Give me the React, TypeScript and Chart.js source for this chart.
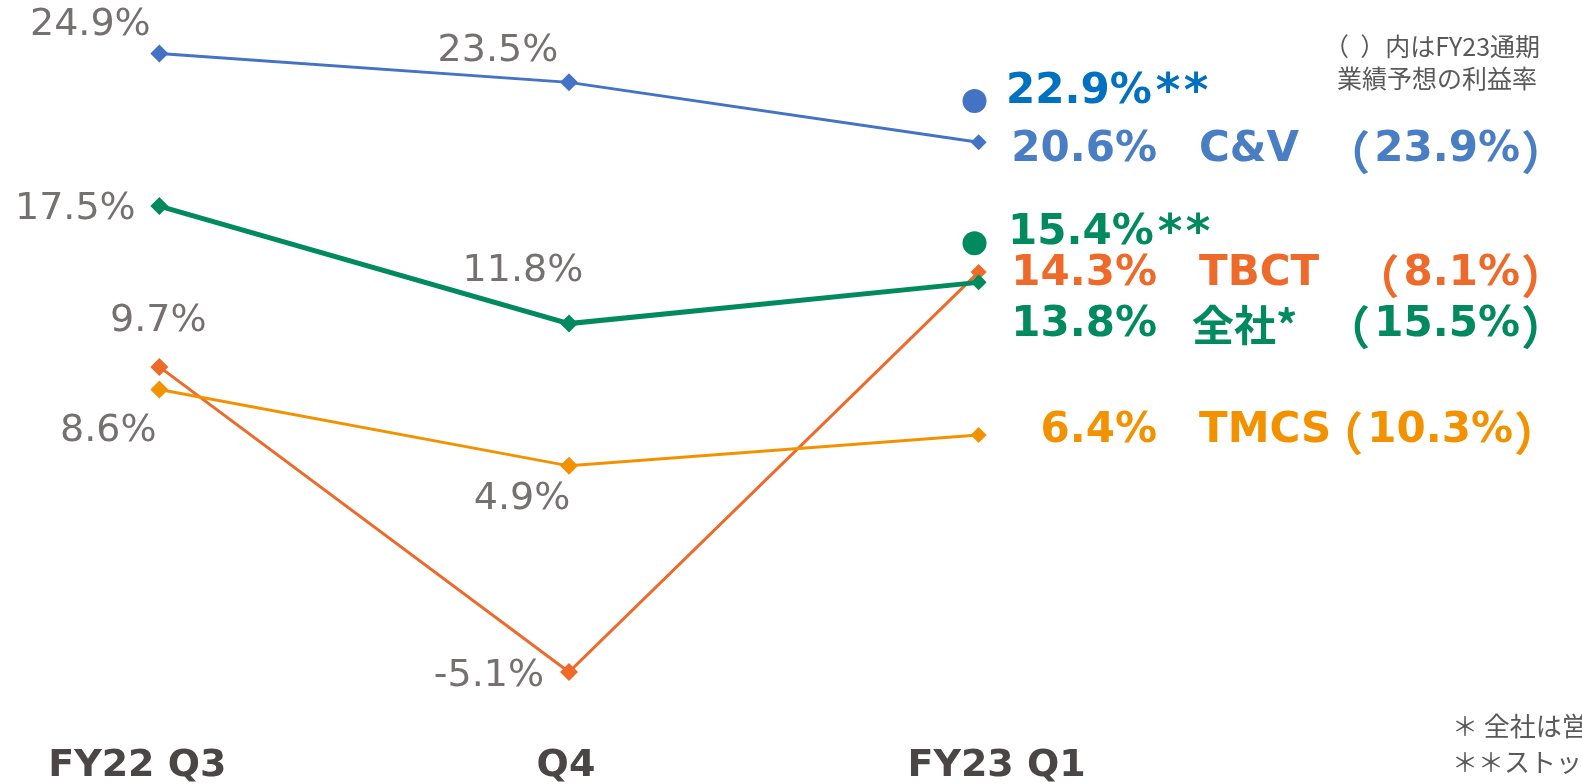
import React, { useEffect, useRef } from "react";
import { Chart, registerables } from "chart.js";

Chart.register(...registerables);

// ---- data ----
const categories = ["FY22 Q3", "Q4", "FY23 Q1"];
const cvValues = [24.9, 23.5, 20.6];
const totalValues = [17.5, 11.8, 13.8];
const tbctValues = [9.7, -5.1, 14.3];
const tmcsValues = [8.6, 4.9, 6.4];
// dots for "before stock compensation" values, read at their drawn position
const cvStockDot = 22.6;
const totalStockDot = 15.7;
const cvStockLabel = "22.9%";
const totalStockLabel = "15.4%";
// FY23 full-year forecast margins
const cvForecast = "23.9%";
const tbctForecast = "8.1%";
const totalForecast = "15.5%";
const tmcsForecast = "10.3%";
const seriesNames = ["C&V", "TBCT", "全社*", "TMCS"];
const noteLines = ["（  ）内はFY23通期", "業績予想の利益率"];
const footLines = ["＊ 全社は営業利益率", "＊＊ストック報酬控除前"];

// ---- styles ----
const BLUE = "#4472C4";
const BLUE_TXT = "#4A7EC4";
const BLUE_DARK = "#0070C0";
const GREEN = "#008A5E";
const RED = "#EE6A2B";
const ORANGE = "#F39200";
const GREY = "#767171";
const DARK = "#4A4646";

const FONT = '"DejaVu Sans", "Noto Sans CJK JP", sans-serif';
const CJK = '"Noto Sans CJK JP", "DejaVu Sans", sans-serif';

// offsets (px) of grey value labels relative to their points
const cvOffsets = [[-69, -28], [-71, -31]];
const totalOffsets = [[-84, 3], [-46, -52]];
const tbctOffsets = [[-1, -46], [-80, 4]];
const tmcsOffsets = [[-51, 42], [-47, 33]];
const catOffsets = [-22, -3, 18];

const labelsPlugin = {
  id: "labelsPlugin",
  afterDatasetsDraw(chart: any) {
    const ctx = chart.ctx as CanvasRenderingContext2D;
    const xs = chart.scales.x;
    const ys = chart.scales.y;
    ctx.save();
    ctx.textBaseline = "middle";

    // grey value labels
    ctx.font = `38px ${FONT}`;
    ctx.fillStyle = GREY;
    ctx.textAlign = "center";
    const groups: [number[], number[][]][] = [
      [cvValues, cvOffsets],
      [totalValues, totalOffsets],
      [tbctValues, tbctOffsets],
      [tmcsValues, tmcsOffsets],
    ];
    groups.forEach(([vals, offs]) => {
      offs.forEach((o, i) => {
        const px = xs.getPixelForValue(i);
        const py = ys.getPixelForValue(vals[i]);
        ctx.fillText(`${vals[i].toFixed(1)}%`, px + o[0], py + o[1]);
      });
    });

    // category labels
    ctx.font = `bold 38px ${FONT}`;
    ctx.fillStyle = DARK;
    categories.forEach((c, i) => {
      ctx.fillText(c, xs.getPixelForValue(i) + catOffsets[i], 766);
    });

    // right side labels
    const big = `bold 42px ${FONT}`;
    const bigCjk = `bold 42px ${CJK}`;
    const parenFont = `bold 46px ${CJK}`;
    const last = (arr: number[]) => `${arr[arr.length - 1].toFixed(1)}%`;
    const stars = (x: number, y: number) => {
      ctx.font = `bold 47px ${FONT}`;
      ctx.textAlign = "left";
      ctx.fillText("*", x, y + 2);
      ctx.fillText("*", x + 28, y + 2);
    };
    const row = (y: number, color: string, num: string, name: string, fc: string, fcRight: number) => {
      ctx.fillStyle = color;
      ctx.font = big;
      ctx.textAlign = "right";
      ctx.fillText(num, 1157, y);
      ctx.textAlign = "left";
      const isCjk = name.includes("全");
      ctx.font = isCjk ? bigCjk : big;
      ctx.fillText(name, isCjk ? 1192 : 1199, y);
      // forecast in full-width parentheses
      ctx.font = big;
      ctx.textAlign = "right";
      ctx.fillText(fc, fcRight, y);
      const w = ctx.measureText(fc).width;
      ctx.font = parenFont;
      ctx.fillText("（", fcRight - w - 4, y + 2);
      ctx.textAlign = "left";
      ctx.fillText("）", fcRight + 1, y + 2);
    };
    ctx.textAlign = "left";
    ctx.font = big;
    ctx.fillStyle = BLUE_DARK;
    ctx.fillText(cvStockLabel, 1006, 92);
    stars(1006 + ctx.measureText(cvStockLabel).width + 4, 92);
    ctx.fillStyle = GREEN;
    ctx.font = big;
    ctx.fillText(totalStockLabel, 1008, 233);
    stars(1008 + ctx.measureText(totalStockLabel).width + 4, 233);
    row(150, BLUE_TXT, last(cvValues), seriesNames[0], cvForecast, 1520);
    row(274, RED, last(tbctValues), seriesNames[1], tbctForecast, 1520);
    row(325, GREEN, last(totalValues), seriesNames[2], totalForecast, 1520);
    row(431, ORANGE, last(tmcsValues), seriesNames[3], tmcsForecast, 1513);

    // notes
    ctx.font = `25px ${CJK}`;
    ctx.fillStyle = "#595959";
    ctx.textAlign = "left";
    ctx.fillText(noteLines[0], 1324, 46);
    ctx.fillText(noteLines[1], 1337, 78);
    ctx.font = `26px ${CJK}`;
    ctx.fillText(footLines[0], 1452, 726);
    ctx.fillText(footLines[1], 1452, 762);
    ctx.restore();
  },
};

export default function App() {
  const ref = useRef<HTMLCanvasElement | null>(null);
  useEffect(() => {
    document.body.style.margin = "0";
    const lineDs = (label: string, data: number[], color: string, width: number) => ({
      type: "line" as const,
      label,
      data: data.map((v, i) => ({ x: i, y: v })),
      borderColor: color,
      backgroundColor: color,
      borderWidth: width,
      pointStyle: "rectRot",
      pointRadius: [9, 9, 8],
      pointBorderWidth: 0,
      tension: 0,
    });
    const chart = new Chart(ref.current as HTMLCanvasElement, {
      type: "line",
      data: {
        datasets: [
          lineDs("TMCS", tmcsValues, ORANGE, 3),
          lineDs("C&V", cvValues, BLUE, 3),
          lineDs("全社", totalValues, GREEN, 5),
          lineDs("TBCT", tbctValues, RED, 3),
          {
            type: "line" as const,
            label: "dots",
            data: [
              { x: 1.99, y: cvStockDot },
              { x: 1.99, y: totalStockDot },
            ],
            showLine: false,
            pointStyle: "circle",
            pointRadius: 12,
            pointBorderWidth: 0,
            backgroundColor: [BLUE, GREEN],
            borderColor: [BLUE, GREEN],
          } as any,
        ],
      },
      options: {
        animation: false,
        responsive: true,
        maintainAspectRatio: false,
        layout: { padding: 0, autoPadding: false },
        plugins: { legend: { display: false }, tooltip: { enabled: false } },
        scales: {
          x: { type: "linear", display: false, min: -0.389, max: 3.473 },
          y: { type: "linear", display: false, min: -10.53, max: 27.495 },
        },
      },
      plugins: [labelsPlugin],
    } as any);
    return () => chart.destroy();
  }, []);
  return (
    <div style={{ position: "absolute", left: 0, top: 0, width: 1582, height: 784 }}>
      <canvas ref={ref} />
    </div>
  );
}
